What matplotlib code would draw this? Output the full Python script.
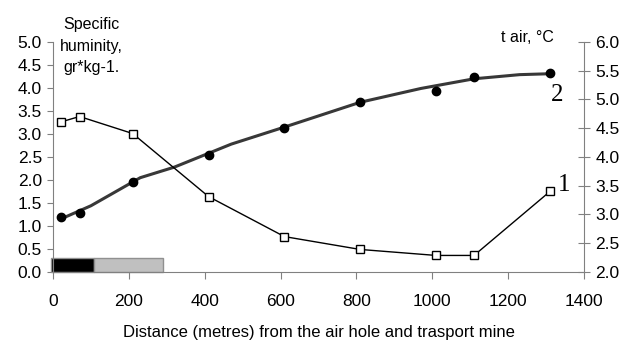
import matplotlib.pyplot as plt

plt.rcParams['font.family'] = ['Liberation Sans', 'DejaVu Sans']

# distance along the mine, metres
dist = [20, 70, 210, 410, 610, 810, 1010, 1110, 1310]
# curve 1 (open squares), left axis
hum = [3.26, 3.38, 3.01, 1.64, 0.77, 0.49, 0.36, 0.36, 1.75]
# curve 2 (filled circles), left axis scale
tair = [1.19, 1.29, 1.96, 2.54, 3.14, 3.70, 3.94, 4.23, 4.33]
# trend line drawn through curve 2
trend_x = [20, 100, 230, 320, 470, 610, 810, 970, 1110, 1230, 1310]
trend_y = [1.15, 1.44, 2.05, 2.28, 2.78, 3.15, 3.69, 3.99, 4.20, 4.29, 4.31]
# strips along the bottom
strip_start = [-5, 109]
strip_width = [114, 182]
strip_height = [0.3, 0.3]
strip_color = ['black', '#c0c0c0']

fig = plt.figure(figsize=(6.28, 3.4), dpi=100)
ax = fig.add_axes([0.0844, 0.2, 0.8456, 0.6765])

ax.bar(strip_start, strip_height, width=strip_width, align='edge',
       color=strip_color, edgecolor='#909090', linewidth=1, zorder=2, clip_on=False)

ax.plot(trend_x, trend_y, color='#383838', linewidth=2.2, zorder=3)
ax.plot(dist, tair, 'o', color='black', markersize=6, zorder=4)
ax.plot(dist, hum, '-s', color='black', linewidth=1, markersize=6,
        markerfacecolor='white', markeredgewidth=1, zorder=5)

ax.set_xlim(0, 1400)
ax.set_ylim(0, 5)
ax.set_xticks(range(0, 1401, 200))
ax.set_yticks([i * 0.5 for i in range(11)])
ax.set_yticklabels(['%.1f' % (i * 0.5) for i in range(11)])
ax.spines['top'].set_visible(False)
ax.spines['right'].set_visible(False)
for s in ['left', 'bottom']:
    ax.spines[s].set_color('#808080')
ax.tick_params(axis='y', direction='out', length=4, color='#808080', labelsize=12.5, pad=4)
ax.tick_params(axis='x', direction='out', length=5, color='#808080', labelsize=12.5, pad=11)

ax2 = ax.twinx()
ax2.set_ylim(2, 6)
ax2.set_yticks([2 + i * 0.5 for i in range(9)])
ax2.set_yticklabels(['%.1f' % (2 + i * 0.5) for i in range(9)])
for s in ['top', 'left', 'bottom']:
    ax2.spines[s].set_visible(False)
ax2.spines['right'].set_color('#808080')
ax2.tick_params(axis='y', direction='inout', length=8, color='#808080', labelsize=12.5, pad=4)

ax.set_xlabel('Distance (metres) from the air hole and trasport mine', fontsize=12, labelpad=11)
fig.text(91 / 628, 1 - 17 / 340, 'Specific\nhuminity,\ngr*kg-1.', ha='center', va='top',
         fontsize=11.5, linespacing=1.55)
fig.text(554 / 628, 1 - 38 / 340, 't air, °C', ha='right', va='center', fontsize=11.5)

ax.text(1330, 3.85, '2', family='Liberation Serif', fontsize=18, ha='center', va='center')
ax.text(1330, 1.9, '1', family='Liberation Serif', fontsize=18, ha='left', va='center')

fig.savefig('out.png', dpi=100)
